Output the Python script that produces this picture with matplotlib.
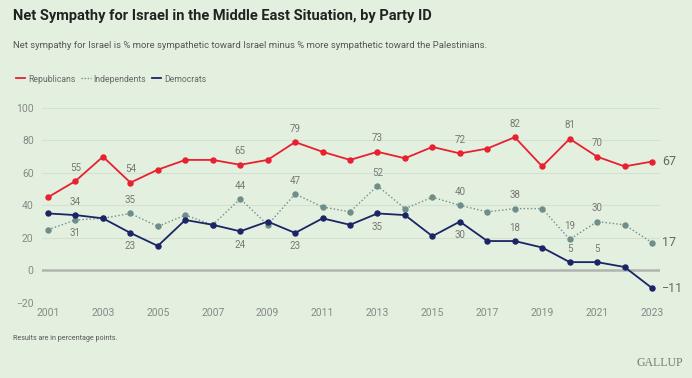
import matplotlib
matplotlib.use("Agg")
import matplotlib.pyplot as plt
from matplotlib.lines import Line2D

years = list(range(2001, 2024))
republicans = [45, 55, 70, 54, 62, 68, 68, 65, 68, 79, 73, 68, 73, 69, 76, 72, 75, 82, 64, 81, 70, 64, 67]
independents = [25, 31, 32, 35, 27, 34, 28, 44, 28, 47, 39, 36, 52, 38, 45, 40, 36, 38, 38, 19, 30, 28, 17]
democrats = [35, 34, 32, 23, 15, 31, 28, 24, 30, 23, 32, 28, 35, 34, 21, 30, 18, 18, 14, 5, 5, 2, -11]

# labelled points: (year, position)
rep_labels = {2002: "above", 2004: "above", 2008: "above", 2010: "above", 2013: "above",
              2016: "above", 2018: "above", 2020: "above", 2021: "above"}
ind_labels = {2002: "below", 2004: "above", 2008: "above", 2010: "above", 2013: "above",
              2016: "above", 2018: "above", 2020: "above", 2021: "above"}
dem_labels = {2002: "above", 2004: "below", 2008: "below", 2010: "below", 2013: "below",
              2016: "below", 2018: "above", 2020: "above", 2021: "above"}

yticks = [-20, 0, 20, 40, 60, 80, 100]
xticks = list(range(2001, 2024, 2))

BG = "#e3f0df"
RED = "#e8202f"
GRAY = "#6f8e89"
NAVY = "#1b2466"
TXT = "#777777"

plt.rcParams['font.family'] = ['Roboto', 'DejaVu Sans']

fig = plt.figure(figsize=(6.92, 3.78), dpi=100, facecolor=BG)
ax = fig.add_axes([42/692, 1-302.7/378, 618/692, 194.7/378])
ax.set_facecolor(BG)

for y in yticks:
    if y == 0:
        ax.axhline(0, color="#b0b5ae", lw=1.8, zorder=1)
    else:
        ax.axhline(y, color="#d3e2d0", lw=0.8, zorder=1)

ax.plot(years, republicans, color=RED, lw=1.3, marker="o", ms=3.6, zorder=3)
ax.plot(years, independents, color=GRAY, lw=1.0, ls=(0, (1, 1.6)), marker="o", ms=3.6, zorder=3)
ax.plot(years, democrats, color=NAVY, lw=1.3, marker="o", ms=3.6, zorder=4)

def label(series, labels):
    for yr, pos in labels.items():
        v = series[years.index(yr)]
        off = 6 if pos == "above" else -6
        ax.annotate(str(v), (yr, v), xytext=(0, off), textcoords="offset points",
                    ha="center", va="bottom" if pos == "above" else "top",
                    fontsize=7, color=TXT)

label(republicans, rep_labels)
label(independents, ind_labels)
label(democrats, dem_labels)

for s in (republicans, independents, democrats):
    v = s[-1]
    txt = str(v).replace("-", "\u2212")
    ax.annotate(txt, (years[-1], v), xytext=(7, 0), textcoords="offset points",
                ha="left", va="center", fontsize=9, color="#666666")

ax.set_xlim(2000.78, 2023.29)
ax.set_ylim(-20, 100)
ax.set_yticks(yticks)
ax.set_yticklabels([str(t).replace("-", "\u2212") for t in yticks])
ax.set_xticks(xticks)
ax.tick_params(length=0, labelsize=7.5, colors="#888888")
ax.tick_params(axis="y", pad=6)
ax.tick_params(axis="x", pad=4)
for sp in ax.spines.values():
    sp.set_visible(False)

fig.text(13/692, 1-16/378, "Net Sympathy for Israel in the Middle East Situation, by Party ID",
         fontsize=10.5, fontweight="bold", color="#222222", va="center", ha="left")
fig.text(13/692, 1-46/378,
         "Net sympathy for Israel is % more sympathetic toward Israel minus % more sympathetic toward the Palestinians.",
         fontsize=6.8, color="#555555", va="center", ha="left")

# legend
handles = [Line2D([], [], color=RED, lw=1.3),
           Line2D([], [], color=GRAY, lw=1.0, ls=(0, (1, 1.2))),
           Line2D([], [], color=NAVY, lw=1.3)]
fig.legend(handles, ["Republicans", "Independents", "Democrats"], loc="center left",
           bbox_to_anchor=(8/692, 1-79/378), ncol=3, frameon=False,
           prop={"size": 6.2},
           handlelength=1.1, handletextpad=0.3, columnspacing=0.7, labelcolor="#666666")

fig.text(13/692, 1-339/378, "Results are in percentage points.", fontsize=5.1, color="#555555",
         va="center", ha="left")
fig.text(683/692, 1-363/378, "GALLUP", fontsize=8.5, color="#777777", va="center", ha="right",
         family=["Liberation Serif", "DejaVu Serif"])

fig.savefig("out.png", dpi=100, facecolor=BG)
